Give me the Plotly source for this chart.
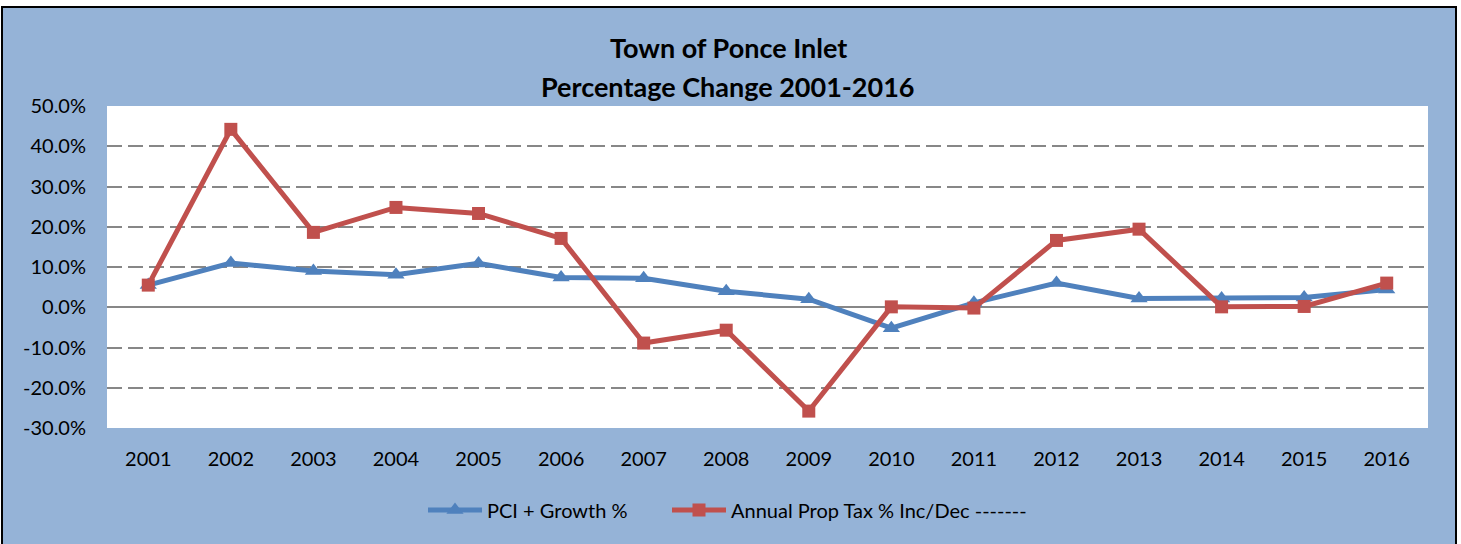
import plotly.graph_objects as go

years = ["2001", "2002", "2003", "2004", "2005", "2006", "2007", "2008",
         "2009", "2010", "2011", "2012", "2013", "2014", "2015", "2016"]
pci_growth = [5.5, 11.0, 9.0, 8.1, 10.9, 7.4, 7.2, 4.0, 2.0, -5.2, 1.1, 6.0, 2.2, 2.2, 2.4, 4.4]
prop_tax = [5.5, 44.2, 18.6, 24.8, 23.3, 17.1, -8.9, -5.7, -25.8, 0.1, -0.2, 16.6, 19.4, 0.1, 0.2, 6.0]
y_ticks = [-30, -20, -10, 0, 10, 20, 30, 40, 50]
y_tick_labels = ["-30.0%", "-20.0%", "-10.0%", "0.0%", "10.0%", "20.0%", "30.0%", "40.0%", "50.0%"]
title_lines = ["Town of Ponce Inlet", "Percentage Change 2001-2016"]

BLUE = "#4F81BD"
RED = "#C0504D"
BG = "#95B3D7"
FONT = "Lato"

fig = go.Figure()
fig.add_trace(go.Scatter(
    x=years, y=pci_growth, name="PCI + Growth %", mode="lines+markers",
    line=dict(color=BLUE, width=5),
    marker=dict(symbol="triangle-up", size=15, color=BLUE),
    legend="legend",
))
fig.add_trace(go.Scatter(
    x=years, y=prop_tax, name="Annual Prop Tax % Inc/Dec -------", mode="lines+markers",
    line=dict(color=RED, width=5),
    marker=dict(symbol="square", size=13, color=RED),
    legend="legend2",
))

L, R, T, B = 107, 33, 106, 116
W, H = 1461, 544
pw, ph = W - L - R, H - T - B

def px_x(px):
    return (px - L) / pw

def px_y(py):
    return (H - B - py) / ph

fig.add_shape(type="rect", xref="paper", yref="paper", layer="below",
              x0=px_x(2), x1=px_x(1456), y0=px_y(580), y1=px_y(7),
              fillcolor=BG, line=dict(color="black", width=2))
fig.add_shape(type="rect", xref="paper", yref="paper", layer="below",
              x0=0, x1=1, y0=0, y1=1, fillcolor="white", line=dict(width=0))

for txt, py in zip(title_lines, [47, 86]):
    fig.add_annotation(text="<b>" + txt + "</b>", xref="paper", yref="paper",
                       x=px_x(728), y=px_y(py), xanchor="center", yanchor="middle",
                       showarrow=False, font=dict(family=FONT, size=27, color="black"))

leg_common = dict(orientation="h", xref="paper", xanchor="left", yanchor="middle",
                  bgcolor="rgba(0,0,0,0)", font=dict(family=FONT, size=20, color="black"),
                  itemwidth=54)
fig.update_layout(
    width=W, height=H,
    margin=dict(l=L, r=R, t=T, b=B),
    paper_bgcolor="white", plot_bgcolor="white",
    font=dict(family=FONT, color="black", size=20),
    showlegend=True,
    legend=dict(x=px_x(423), y=px_y(510), **leg_common),
    legend2=dict(x=px_x(667), y=px_y(510), **leg_common),
)
fig.update_xaxes(type="category", range=[-0.5, 15.5], showgrid=False,
                 ticks="", showline=False, tickfont=dict(size=20), ticklabelstandoff=17)
fig.update_yaxes(range=[-30, 50], tickvals=y_ticks, ticktext=y_tick_labels,
                 showgrid=True, gridcolor="#878787", gridwidth=2, griddash="15px,6px",
                 zeroline=True, zerolinecolor="#878787", zerolinewidth=2,
                 showline=False, ticks="", tickfont=dict(size=20), ticklabelstandoff=20)

fig.write_html("out.html", config={"displayModeBar": False},
               post_script="document.body.style.margin='0px';")
